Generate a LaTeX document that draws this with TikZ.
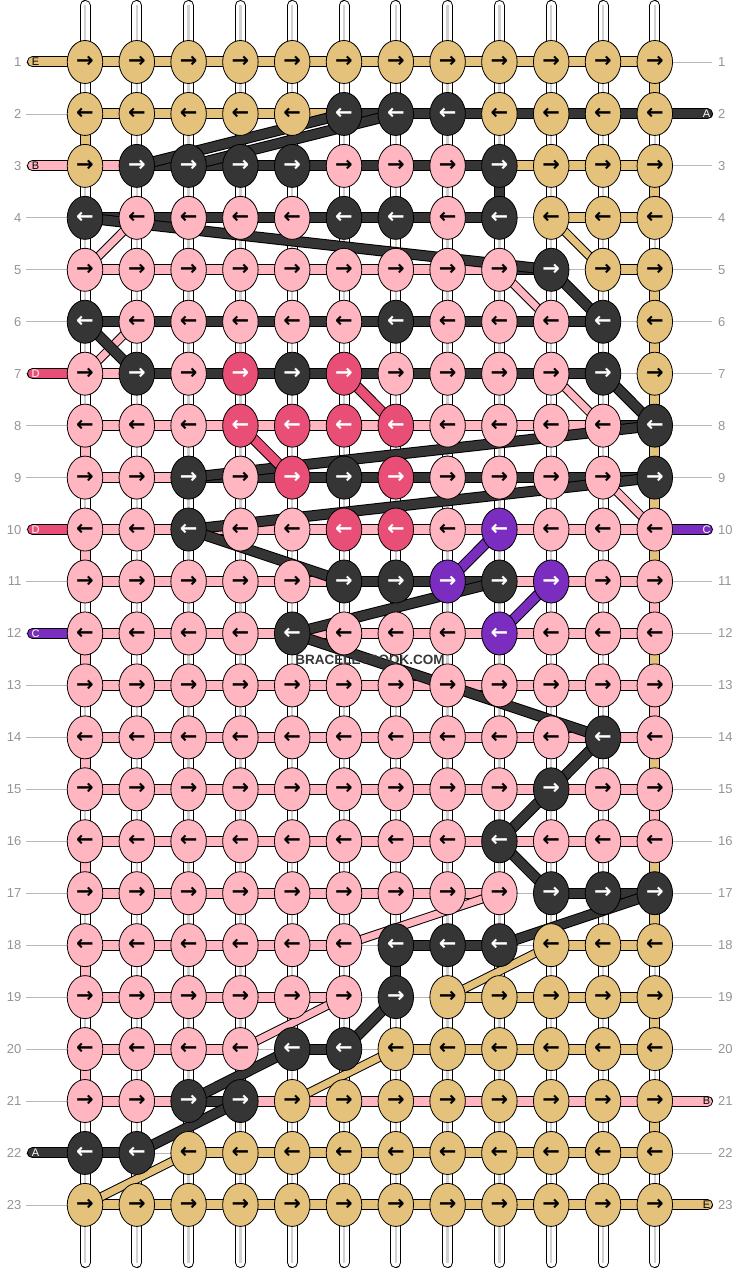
\documentclass[tikz,border=0pt]{standalone}
\usepackage{fontspec}
\setmainfont{Liberation Sans}
\newfontfamily\arrowfont{DejaVu Sans}
\usetikzlibrary{shapes.geometric}
\definecolor{cT}{HTML}{E4C27C}
\definecolor{cP}{HTML}{FFB6C1}
\definecolor{cK}{HTML}{353535}
\definecolor{cR}{HTML}{E94E77}
\definecolor{cV}{HTML}{7A2DBF}
\colorlet{aT}{black}\colorlet{aP}{black}\colorlet{aK}{white}\colorlet{aR}{white}\colorlet{aV}{white}
\tikzset{
  bar/.style={draw=#1, line width=9pt, preaction={draw=black, line width=11pt}},
  thinbar/.style={draw=#1, line width=7pt, preaction={draw=black, line width=9pt}},
  stub/.style={draw=#1, line width=9pt, line cap=round, preaction={draw=black, line width=11pt, line cap=round}},
  strand/.style={draw=white, line width=9pt, line cap=round, preaction={draw=black, line width=11pt, line cap=round}, postaction={draw=black!18, line width=2.5pt, line cap=butt}},
  knot/.style={ellipse, draw=black, line width=0.8pt, minimum width=35.5pt, minimum height=43pt, inner sep=0pt, font=\arrowfont\bfseries\fontsize{21}{21}\selectfont},
  guide/.style={draw=black!28, line width=0.8pt},
  num/.style={text=black!42, font=\fontsize{13}{13}\selectfont, inner sep=0pt},
  stubletter/.style={font=\fontsize{11}{11}\selectfont, inner sep=0pt},
  wmark/.style={font=\bfseries\fontsize{13.5}{13.5}\selectfont, inner sep=0pt},
}
\newcommand\mybarrow[2]{%
  \foreach \bc [count=\c] in {#2} {%
    \if\bc N\else
      \pgfmathtruncatemacro\cn{\c+1}%
      \draw[bar=c\bc] (p-\c-#1) -- (p-\cn-#1);
    \fi}}
\newcommand\myknotrow[2]{%
  \foreach \kc [count=\c] in {#2} {%
    \node[knot, fill=c\kc, text=a\kc] (k-\c-#1) at (p-\c-#1) {\ifodd#1 →\else ←\fi};
  }}
\begin{document}
\begin{tikzpicture}[x=1pt,y=-1pt]
\useasboundingbox (0,0) rectangle (740,1268);
% grid coordinates
\foreach \c in {1,...,12}{%
  \foreach \r in {1,...,23}{%
    \coordinate (p-\c-\r) at ({85+(\c-1)*51.8},{62+(\r-1)*51.95});
  }
  \coordinate (st-\c) at ({85+(\c-1)*51.8},5.5);
  \coordinate (sb-\c) at ({85+(\c-1)*51.8},1262.5);
}
% row guides and numbers
\foreach \r in {1,...,23}{%
  \coordinate (gl-\r) at (26,{62+(\r-1)*51.95});
  \coordinate (gr-\r) at (712,{62+(\r-1)*51.95});
  \draw[guide] (gl-\r) -- (gr-\r);
  \node[num, anchor=east] (nl-\r) at (21.5,{62+(\r-1)*51.95}) {\r};
  \node[num, anchor=west] (nr-\r) at (718,{62+(\r-1)*51.95}) {\r};
}
% vertical white strands
\foreach \c in {1,...,12}{\draw[strand] (st-\c) -- (sb-\c);}
% vertical coloured segments
\foreach \c/\r/\col in {1/2/T,1/8/P,1/10/P,1/12/P,1/14/P,1/16/P,1/18/P,1/20/P,
  12/1/T,12/3/T,12/5/T,12/6/T,12/7/T,12/8/T,12/9/T,12/10/T,12/11/P,12/12/T,12/13/P,12/14/T,12/15/P,12/16/T,12/17/T,12/19/T,12/21/T,
  9/3/K,7/18/K}{%
  \pgfmathtruncatemacro\rn{\r+1}%
  \draw[bar=c\col] (p-\c-\r) -- (p-\c-\rn);
}
% stubs
\foreach \r/\col/\lt in {1/T/E,3/P/B,7/R/D,10/R/D,12/V/C,22/K/A}{%
  \coordinate (sl-\r) at (32.5,{62+(\r-1)*51.95});
  \draw[stub=c\col] (sl-\r) -- (p-1-\r);
  \node[stubletter, text=a\col] (ll-\r) at (35.5,{62+(\r-1)*51.95}) {\lt};
}
\foreach \r/\col/\lt in {2/K/A,10/V/C,21/P/B,23/T/E}{%
  \coordinate (sr-\r) at (707.5,{62+(\r-1)*51.95});
  \draw[stub=c\col] (sr-\r) -- (p-12-\r);
  \node[stubletter, text=a\col] (lr-\r) at (706.5,{62+(\r-1)*51.95}) {\lt};
}
% horizontal bars
\mybarrow{1}{T,T,T,T,T,T,T,T,T,T,T}
\mybarrow{2}{T,T,T,T,T,K,K,K,K,K,K}
\mybarrow{3}{P,K,K,K,K,K,K,K,T,T,T}
\mybarrow{4}{K,K,K,K,K,K,K,K,N,T,T}
\mybarrow{5}{P,P,P,P,P,P,P,P,K,N,T}
\mybarrow{6}{K,K,K,K,K,K,K,K,K,K,N}
\mybarrow{7}{P,K,K,K,K,K,K,K,K,K,N}
\mybarrow{8}{P,P,P,P,P,P,P,P,P,P,K}
\mybarrow{9}{P,P,K,K,K,K,K,K,K,K,K}
\mybarrow{10}{P,P,P,P,P,P,P,P,P,P,P}
\mybarrow{11}{P,P,P,P,P,K,K,K,P,P,P}
\mybarrow{12}{P,P,P,P,P,P,P,P,P,P,P}
\mybarrow{13}{P,P,P,P,P,P,P,P,P,P,P}
\mybarrow{14}{P,P,P,P,P,P,P,P,P,P,P}
\mybarrow{15}{P,P,P,P,P,P,P,P,P,P,P}
\mybarrow{16}{P,P,P,P,P,P,P,P,P,P,P}
\mybarrow{17}{P,P,P,P,P,P,P,P,N,K,K}
\mybarrow{18}{P,P,P,P,P,N,K,K,N,T,T}
\mybarrow{19}{P,P,P,P,P,N,N,T,T,T,T}
\mybarrow{20}{P,P,P,N,K,N,T,T,T,T,T}
\mybarrow{21}{P,P,K,P,P,P,P,P,P,P,P}
\mybarrow{22}{K,N,T,T,T,T,T,T,T,T,T}
\mybarrow{23}{T,T,T,T,T,T,T,T,T,T,T}
% diagonal connectors (thin: pink / tan)
\foreach \ca/\ra/\cb/\rb/\col in {2/4/1/5/P,9/5/10/6/P,2/6/1/7/P,10/7/11/8/P,11/9/12/10/P,6/18/9/17/P,4/20/6/19/P,
  10/4/11/5/T,8/19/10/18/T,5/21/7/20/T,1/23/3/22/T}{%
  \draw[thinbar=c\col] (p-\ca-\ra) -- (p-\cb-\rb);
}
% diagonal connectors (wide)
\foreach \ca/\ra/\cb/\rb/\col in {2/3/6/2/K,3/3/7/2/K,1/4/10/5/K,10/5/11/6/K,1/6/2/7/K,11/7/12/8/K,12/8/3/9/K,12/9/3/10/K,3/10/6/11/K,
  5/12/9/11/K,5/12/11/14/K,11/14/10/15/K,10/15/9/16/K,9/16/10/17/K,12/17/9/18/K,7/19/6/20/K,3/21/5/20/K,2/22/4/21/K,
  6/7/7/8/R,4/8/5/9/R,8/11/9/10/V,9/12/10/11/V}{%
  \draw[bar=c\col] (p-\ca-\ra) -- (p-\cb-\rb);
}
% knots
\myknotrow{1}{T,T,T,T,T,T,T,T,T,T,T,T}
\myknotrow{2}{T,T,T,T,T,K,K,K,T,T,T,T}
\myknotrow{3}{T,K,K,K,K,P,P,P,K,T,T,T}
\myknotrow{4}{K,P,P,P,P,K,K,P,K,T,T,T}
\myknotrow{5}{P,P,P,P,P,P,P,P,P,K,T,T}
\myknotrow{6}{K,P,P,P,P,P,K,P,P,P,K,T}
\myknotrow{7}{P,K,P,R,K,R,P,P,P,P,K,T}
\myknotrow{8}{P,P,P,R,R,R,R,P,P,P,P,K}
\myknotrow{9}{P,P,K,P,R,K,R,P,P,P,P,K}
\myknotrow{10}{P,P,K,P,P,R,R,P,V,P,P,P}
\myknotrow{11}{P,P,P,P,P,K,K,V,K,V,P,P}
\myknotrow{12}{P,P,P,P,K,P,P,P,V,P,P,P}
\myknotrow{13}{P,P,P,P,P,P,P,P,P,P,P,P}
\myknotrow{14}{P,P,P,P,P,P,P,P,P,P,K,P}
\myknotrow{15}{P,P,P,P,P,P,P,P,P,K,P,P}
\myknotrow{16}{P,P,P,P,P,P,P,P,K,P,P,P}
\myknotrow{17}{P,P,P,P,P,P,P,P,P,K,K,K}
\myknotrow{18}{P,P,P,P,P,P,K,K,K,T,T,T}
\myknotrow{19}{P,P,P,P,P,P,K,T,T,T,T,T}
\myknotrow{20}{P,P,P,P,K,K,T,T,T,T,T,T}
\myknotrow{21}{P,P,K,K,T,T,T,T,T,T,T,T}
\myknotrow{22}{K,K,T,T,T,T,T,T,T,T,T,T}
\myknotrow{23}{T,T,T,T,T,T,T,T,T,T,T,T}
% watermark
\node[wmark, text=black!78] (wm) at (370,660) {BRACELETBOOK.COM};
\end{tikzpicture}
\end{document}
